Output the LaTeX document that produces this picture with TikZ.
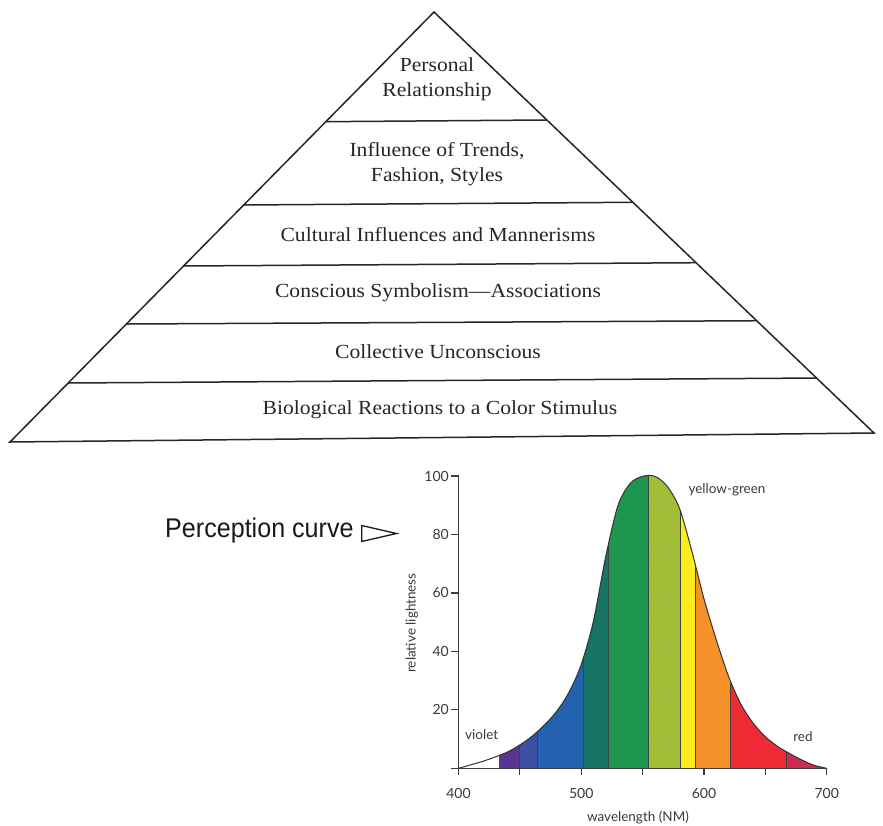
\documentclass[tikz,border=0pt]{standalone}
\usepackage{fontspec}
\usetikzlibrary{patterns,calc}
\newfontfamily\chartfont{Lato}
\newfontfamily\condfont[FakeStretch=0.93]{Liberation Sans}
\newfontfamily\pyrfont[FakeStretch=1.08,Ligatures=TeX]{Liberation Serif}
\definecolor{pyrline}{HTML}{262626}
\definecolor{pyrtext}{HTML}{262626}
\definecolor{charttext}{HTML}{3A3A3A}
\definecolor{axisc}{HTML}{3C3C3C}
\definecolor{cviolet}{HTML}{5A3590}
\definecolor{cindigo}{HTML}{3B4FA3}
\definecolor{cblue}{HTML}{2462B0}
\definecolor{cteal}{HTML}{1A7D6C}
\definecolor{cgreen}{HTML}{1E9650}
\definecolor{cyg}{HTML}{A9C83B}
\definecolor{cyellow}{HTML}{FFEC1F}
\definecolor{corange}{HTML}{F7922A}
\definecolor{cred}{HTML}{EE2B34}
\definecolor{ccrimson}{HTML}{CC2A52}
\begin{document}
\begin{tikzpicture}[x=1pt,y=-1pt,
  pyr/.style={line width=1.5pt, draw=pyrline, line join=miter},
  ptext/.style={font=\pyrfont\fontsize{20}{25}\selectfont, text=pyrtext, align=center, inner sep=0pt},
  ticklab/.style={font=\chartfont\fontsize{14}{14}\selectfont, text=charttext, inner sep=0pt},
  clab/.style={font=\chartfont\fontsize{13.5}{14}\selectfont, text=charttext, inner sep=0pt},
  axisl/.style={draw=axisc, line width=1.2pt},
  divl/.style={draw=black!75, line width=0.7pt},
  curvel/.style={draw=black!80, line width=1pt}]
\useasboundingbox (0,0) rectangle (883,825);
\fill[white] (0,0) rectangle (883,825);

% ---------------- pyramid ----------------
\coordinate (A) at (434,12);
\coordinate (BL) at (10,442);
\coordinate (BR) at (874,433);
\draw[pyr] (A) -- (BL) -- (BR) -- cycle;
\foreach \tl/\tr [count=\i] in {0.2551/0.2565, 0.4488/0.4520, 0.5907/0.5955, 0.7256/0.7333, 0.8628/0.8694} {
  \coordinate (L\i) at ($(A)!\tl!(BL)$);
  \coordinate (R\i) at ($(A)!\tr!(BR)$);
  \draw[pyr] (L\i) -- (R\i);
}
\node[ptext] (t1) at (437,79) {Personal\\Relationship};
\node[ptext] (t2) at (437,164) {Influence of Trends,\\Fashion, Styles};
\node[ptext] (t3) at (438,235) {Cultural Influences and Mannerisms};
\node[ptext] (t4) at (438,293) {Conscious Symbolism—Associations};
\node[ptext] (t5) at (438,352) {Collective Unconscious};
\node[ptext] (t6) at (440,410) {Biological Reactions to a Color Stimulus};

% ---------------- chart ----------------
\begin{scope}[xshift=458.5pt, yshift=-768.3pt, x=1.2273pt, y=2.923pt]
  \begin{scope}
    \clip plot[smooth, tension=0.5] coordinates {(0,0) (10,1.2) (20,2.4) (30,3.9) (40,5.6) (50,8) (60,11) (70,14.8) (80,19.5) (90,26) (100,35.5) (110,50.5) (120,72.5) (130,90) (140,97.5) (150,99.9) (160,99.9) (170,96.5) (180,89) (190,74.5) (200,58) (210,44) (220,31.5) (230,22) (240,15.5) (250,10.8) (260,7.5) (270,5) (280,2.8) (290,1) (300,0)} -- cycle;
    \fill[cviolet] (33,0) rectangle (49.3,105);
    \fill[cindigo] (49.3,0) rectangle (64.2,105);
    \fill[cblue] (64.2,0) rectangle (101.6,105);
    \fill[cteal] (101.6,0) rectangle (122.4,105);
    \fill[pattern=north east lines, pattern color=cteal!80!black] (101.6,0) rectangle (122.4,105);
    \fill[cgreen] (122.4,0) rectangle (154.7,105);
    \fill[cyg] (154.7,0) rectangle (180.7,105);
    \fill[pattern=north east lines, pattern color=cyg!85!black] (154.7,0) rectangle (180.7,105);
    \fill[cyellow] (180.7,0) rectangle (192.9,105);
    \fill[corange] (192.9,0) rectangle (221.4,105);
    \fill[cred] (221.4,0) rectangle (267.4,105);
    \fill[ccrimson] (267.4,0) rectangle (300,105);
    \foreach \b in {49.3,64.2,101.6,122.4,154.7,180.7,192.9,221.4,267.4}
      \draw[divl] (\b,0) -- (\b,105);
  \end{scope}
  \draw[curvel] plot[smooth, tension=0.5] coordinates {(0,0) (10,1.2) (20,2.4) (30,3.9) (40,5.6) (50,8) (60,11) (70,14.8) (80,19.5) (90,26) (100,35.5) (110,50.5) (120,72.5) (130,90) (140,97.5) (150,99.9) (160,99.9) (170,96.5) (180,89) (190,74.5) (200,58) (210,44) (220,31.5) (230,22) (240,15.5) (250,10.8) (260,7.5) (270,5) (280,2.8) (290,1) (300,0)};
  % axes
  \coordinate (O) at (0,0);
  \coordinate (Xe) at (300,0);
  \coordinate (Ye) at (0,100.3);
  \draw[axisl] ([xshift=-8pt]O) -- (Xe);
  \draw[axisl] (O) -- (Ye);
  \foreach \v in {0,50,...,300}
    \draw[axisl] (\v,0) -- ++(0pt,-7pt);
  \foreach \v in {20,40,...,100}
    \draw[axisl] (0,\v) -- ++(-8pt,0pt);
  \foreach \v/\lab in {0/400,100/500,200/600,300/700}
    \node[ticklab] (xl\lab) at ([yshift=-25pt]\v,0) {\lab};
  \foreach \v in {20,40,...,100}
    \node[ticklab, anchor=east] (yl\v) at ([xshift=-9.5pt]0,\v) {\v};
\end{scope}

\node[clab] (xlab) at (638,817) {wavelength (NM)};
\node[clab, rotate=90] (ylab) at (412,623) {relative lightness};
\node[clab] (violet) at (481.7,735) {violet};
\node[clab] (yg) at (727,490) {yellow-green};
\node[clab] (red) at (803,737) {red};

% perception curve label
\node[font=\condfont\fontsize{27}{27}\selectfont, text=black!90, anchor=base west, inner sep=0pt] (pc) at (165,537.3) {Perception curve};
\draw[line width=1.3pt, line join=miter, draw=black!90] (361.7,525.5) -- (396.5,533.5) -- (361.7,541.5) -- cycle;
\end{tikzpicture}
\end{document}
